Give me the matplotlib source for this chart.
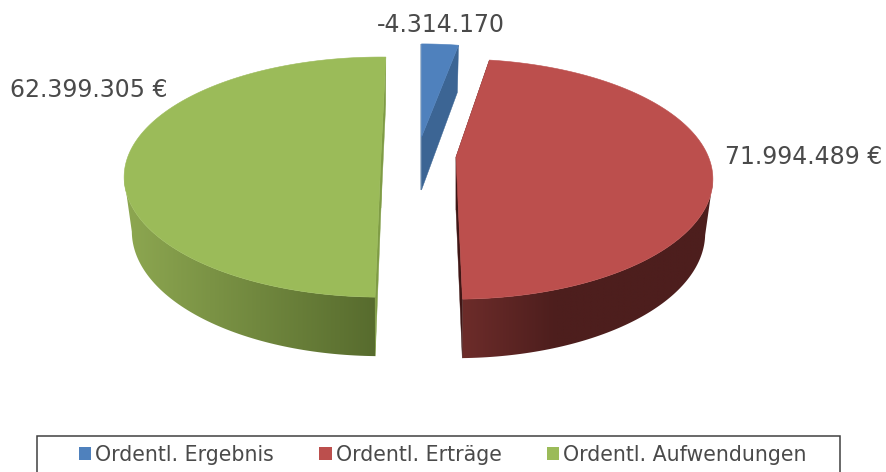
import numpy as np
import matplotlib
matplotlib.use("Agg")
import matplotlib.pyplot as plt
from matplotlib.patches import Patch, Polygon, Rectangle

# Chart data
series_names = ["Ordentl. Ergebnis", "Ordentl. Erträge", "Ordentl. Aufwendungen"]
value_labels = ["-4.314.170", "71.994.489 €", "62.399.305 €"]
sweep_deg = [10.5, 169.8, 180.2]

# Layout of the 3D pie, in picture pixels
first_angle = [0.0, 9.0, 181.1]
centers = [(421.5, 137), (456, 157), (381, 155)]
radius_scale = [0.95, 1.0, 1.0]
label_pos = [(441, 25), (803.5, 157), (89, 90)]
RX = 252.5
RY = 116.0
PERSP = 0.184
BOTTOM_SCALE = 0.97

top_colors = ["#4f81bd", "#bc4f4d", "#9bbb59"]
cut_colors = ["#3c6594", "#3f1615", "#7f9c45"]
# wall colour goes from the first to the second with the distance from the cut
wall_ramps = [("#3c6594", "#3c6594", 40), ("#6f2d2b", "#4d1e1d", 100), ("#566a2d", "#8ca650", 250)]
text_color = "#4a4a4a"
FONT = "DejaVu Sans"


def rim(center, r, t_deg, bottom=False):
    t = np.radians(t_deg)
    u, v = np.sin(t), np.cos(t)
    w = 1 + PERSP * v
    s = BOTTOM_SCALE if bottom else 1.0
    x = center[0] + s * RX * r * u / w
    y = center[1] - RY * r * v / w
    if bottom:
        y = y + 53 - 6 * v
    return x, y


def mix(c1, c2, f):
    a = np.array(matplotlib.colors.to_rgb(c1))
    b = np.array(matplotlib.colors.to_rgb(c2))
    return a + (b - a) * np.clip(f, 0, 1)


fig, ax = plt.subplots(figsize=(8.87, 4.72), dpi=100)
fig.subplots_adjust(0, 0, 1, 1)
ax.axis("off")

# green first, then red, blue on top
for i in [2, 1, 0]:
    c = centers[i]
    r = radius_scale[i]
    t0 = first_angle[i]
    t1 = t0 + sweep_deg[i]
    ts = np.linspace(t0, t1, 181)

    # outer wall, only the front part shows: horizontal shading clipped to its outline
    front = ts[np.cos(np.radians(ts)) < -PERSP]
    if len(front) > 2:
        outline = [rim(c, r, t) for t in front] + [rim(c, r, t, True) for t in front[::-1]]
        wall = Polygon(outline, facecolor="none", edgecolor="none")
        ax.add_patch(wall)
        xs = np.array([p[0] for p in outline])
        ys = np.array([p[1] for p in outline])
        # image a bit bigger than the outline so its edges stay outside the clip
        x0, x1 = xs.min() - 5, xs.max() + 5
        y0, y1 = ys.min() - 5, ys.max() + 5
        cols = np.linspace(x0, x1, 300)
        ramp = wall_ramps[i]
        shade = np.array([[mix(ramp[0], ramp[1], abs(x - rim(c, r, 180)[0]) / ramp[2]) for x in cols]])
        img = ax.imshow(shade, extent=(x0, x1, y1, y0), aspect="auto", interpolation="bilinear")
        img.set_clip_path(wall)

    # the two cut faces
    apex_low = (c[0], c[1] + 53)
    for t in (t0, t1):
        ax.add_patch(Polygon([c, rim(c, r, t), rim(c, r, t, True), apex_low],
                             facecolor=cut_colors[i], edgecolor=cut_colors[i], lw=0.3))

    # top face
    pts = [c] + [rim(c, r, t) for t in ts]
    ax.add_patch(Polygon(pts, facecolor=top_colors[i], edgecolor=top_colors[i], lw=0.4))

    ax.text(label_pos[i][0], label_pos[i][1], value_labels[i], ha="center", va="center",
            fontsize=17, color=text_color, family=FONT)

# Legend box runs off the bottom of the picture
ax.add_patch(Rectangle((37.5, 436), 802.5, 50, facecolor="white", edgecolor="#404040", lw=1.1))
handles = [Patch(facecolor=col, edgecolor="none") for col in top_colors]
ax.legend(handles, series_names, loc="center", bbox_to_anchor=(443, 455), bbox_transform=ax.transData,
          ncol=3, frameon=False, labelcolor=text_color, handlelength=0.6, handleheight=0.6,
          handletextpad=0.2, columnspacing=2.2, borderpad=0, prop={"family": FONT, "size": 14.8})

ax.set_xlim(0, 887)
ax.set_ylim(472, 0)
fig.savefig("out.png", dpi=100)
